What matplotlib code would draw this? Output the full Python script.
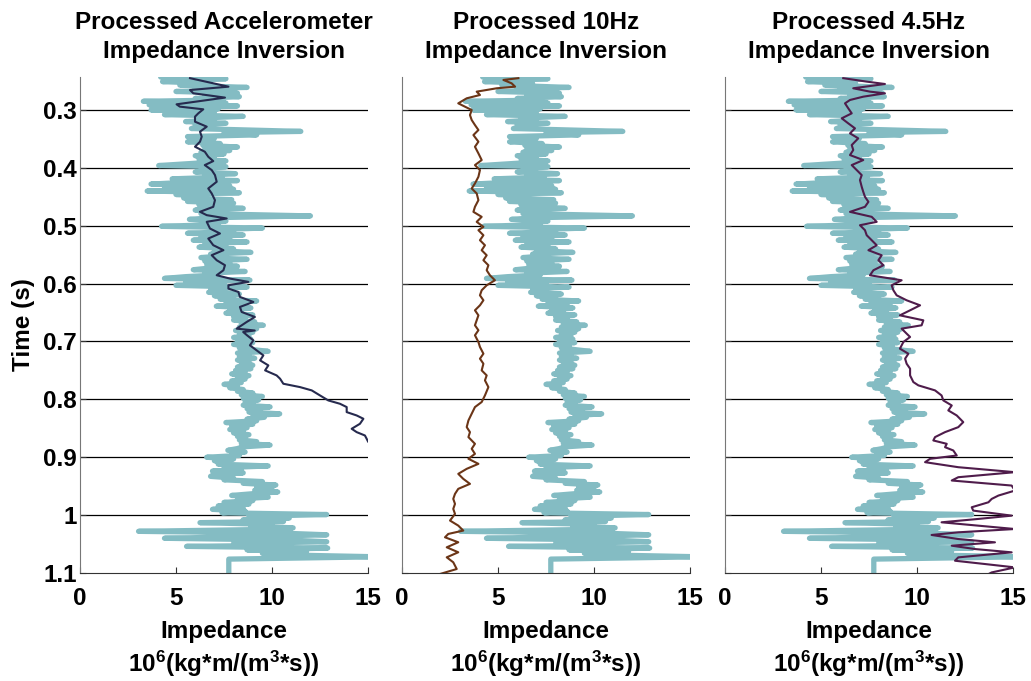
import matplotlib
matplotlib.use("Agg")
import matplotlib.pyplot as plt

plt.rcParams['font.family'] = ['Liberation Sans', 'DejaVu Sans']
plt.rcParams['font.weight'] = 'bold'
plt.rcParams['mathtext.fontset'] = 'custom'
plt.rcParams['mathtext.bf'] = 'Liberation Sans:bold'
plt.rcParams['mathtext.rm'] = 'Liberation Sans:bold'
plt.rcParams['mathtext.default'] = 'bf'

# well log impedance (same in all panels)
log_time = [0.243, 0.246, 0.249, 0.251, 0.254, 0.257, 0.261, 0.263, 0.266, 0.268,
            0.271, 0.274, 0.277, 0.280, 0.283, 0.285, 0.288, 0.291, 0.293, 0.296,
            0.298, 0.300, 0.302, 0.305, 0.308, 0.311, 0.314, 0.317, 0.320, 0.323,
            0.326, 0.329, 0.332, 0.337, 0.339, 0.343, 0.346, 0.349, 0.352, 0.355,
            0.358, 0.361, 0.364, 0.367, 0.370, 0.373, 0.376, 0.379, 0.382, 0.385,
            0.388, 0.391, 0.396, 0.398, 0.401, 0.404, 0.407, 0.410, 0.413, 0.416,
            0.419, 0.422, 0.425, 0.428, 0.431, 0.434, 0.437, 0.440, 0.443, 0.446,
            0.449, 0.452, 0.455, 0.458, 0.461, 0.464, 0.467, 0.470, 0.473, 0.476,
            0.479, 0.483, 0.486, 0.489, 0.492, 0.495, 0.498, 0.501, 0.504, 0.507,
            0.510, 0.513, 0.516, 0.519, 0.522, 0.525, 0.528, 0.531, 0.534, 0.537,
            0.540, 0.543, 0.546, 0.549, 0.552, 0.555, 0.558, 0.561, 0.564, 0.567,
            0.570, 0.573, 0.576, 0.579, 0.582, 0.585, 0.588, 0.591, 0.594, 0.597,
            0.600, 0.603, 0.606, 0.609, 0.612, 0.615, 0.618, 0.621, 0.624, 0.627,
            0.630, 0.633, 0.636, 0.639, 0.642, 0.645, 0.648, 0.651, 0.654, 0.657,
            0.660, 0.663, 0.666, 0.669, 0.672, 0.675, 0.678, 0.681, 0.684, 0.687,
            0.690, 0.693, 0.696, 0.699, 0.702, 0.705, 0.708, 0.711, 0.714, 0.717,
            0.720, 0.723, 0.726, 0.729, 0.732, 0.735, 0.738, 0.741, 0.744, 0.747,
            0.750, 0.753, 0.756, 0.759, 0.762, 0.765, 0.768, 0.771, 0.774, 0.777,
            0.780, 0.783, 0.786, 0.789, 0.792, 0.795, 0.798, 0.801, 0.804, 0.807,
            0.810, 0.813, 0.816, 0.819, 0.822, 0.825, 0.828, 0.831, 0.834, 0.837,
            0.840, 0.843, 0.846, 0.849, 0.852, 0.855, 0.858, 0.861, 0.864, 0.867,
            0.870, 0.873, 0.876, 0.879, 0.882, 0.885, 0.888, 0.891, 0.894, 0.897,
            0.900, 0.903, 0.906, 0.909, 0.912, 0.915, 0.918, 0.921, 0.924, 0.927,
            0.930, 0.933, 0.936, 0.939, 0.942, 0.945, 0.948, 0.951, 0.954, 0.957,
            0.960, 0.963, 0.966, 0.969, 0.972, 0.975, 0.978, 0.981, 0.984, 0.987,
            0.990, 0.993, 0.996, 0.999, 1.002, 1.005, 1.008, 1.011, 1.013, 1.016,
            1.019, 1.022, 1.025, 1.028, 1.031, 1.034, 1.037, 1.040, 1.043, 1.046,
            1.049, 1.052, 1.054, 1.057, 1.060, 1.063, 1.066, 1.069, 1.072, 1.076,
            1.105]
log_imp = [4.2, 7.6, 5.5, 4.3, 6.8, 5.2, 8.7, 6.0, 7.2, 5.0,
           8.2, 6.5, 8.3, 6.0, 7.0, 3.3, 7.6, 3.6, 8.2, 6.0,
           7.2, 3.7, 6.5, 7.0, 4.4, 8.5, 6.2, 7.0, 5.5, 7.6,
           6.0, 6.6, 5.8, 11.5, 7.5, 9.2, 5.6, 7.0, 6.5, 5.6,
           7.3, 6.4, 8.2, 6.5, 7.8, 6.3, 7.5, 6.0, 7.0, 6.2,
           7.6, 6.5, 4.1, 7.6, 6.4, 6.9, 6.0, 8.1, 6.5, 7.4,
           4.8, 8.2, 5.5, 3.7, 7.8, 4.4, 8.0, 3.5, 8.3, 5.0,
           6.5, 5.4, 7.9, 5.6, 8.0, 6.2, 7.0, 8.5, 6.0, 7.6,
           6.3, 12.0, 7.0, 5.7, 7.6, 6.5, 7.2, 4.25, 9.5, 6.8,
           8.0, 5.6, 8.5, 6.3, 7.8, 5.9, 8.7, 6.5, 7.6, 6.2,
           8.0, 7.0, 8.9, 6.8, 7.5, 6.3, 8.7, 6.5, 7.8, 6.6,
           8.2, 6.8, 5.9, 8.6, 6.5, 7.2, 5.5, 4.4, 8.85, 5.5,
           7.5, 5.0, 8.7, 6.8, 7.5, 6.7, 8.3, 7.0, 8.0, 7.3,
           9.2, 7.6, 8.6, 7.1, 8.9, 7.8, 8.4, 7.6, 9.0, 8.0,
           8.6, 8.0, 9.1, 8.4, 9.55, 8.3, 9.2, 8.1, 9.0, 8.3,
           8.8, 8.0, 8.9, 8.2, 9.0, 8.0, 8.7, 8.3, 9.0, 9.8,
           8.2, 8.8, 8.3, 9.1, 8.2, 8.8, 8.4, 9.0, 8.2, 8.9,
           8.1, 8.6, 7.9, 8.8, 8.2, 8.6, 7.9, 8.4, 7.5, 8.2,
           7.8, 8.5, 8.2, 9.0, 8.4, 9.5, 8.5, 9.3, 8.6, 9.0,
           8.5, 9.9, 8.7, 9.4, 8.8, 10.4, 9.0, 9.6, 8.7, 9.2,
           7.6, 9.0, 7.9, 8.7, 7.8, 8.5, 8.0, 8.8, 8.2, 8.6,
           8.3, 9.2, 8.4, 9.9, 8.5, 8.2, 7.7, 8.6, 7.9, 8.3,
           6.6, 8.0, 7.0, 7.6, 7.2, 9.8, 7.5, 8.4, 6.9, 8.5,
           7.0, 6.8, 8.0, 7.5, 9.5, 8.5, 10.2, 9.2, 10.0, 9.1,
           10.3, 9.0, 7.9, 9.8, 8.2, 9.0, 7.5, 8.8, 7.2, 8.5,
           6.9, 8.6, 7.4, 12.85, 8.8, 10.9, 8.5, 10.6, 6.25, 10.0,
           8.9, 11.1, 9.2, 3.05, 10.4, 12.85, 9.0, 4.4, 10.8, 12.85,
           8.0, 11.0, 5.55, 12.9, 8.7, 11.8, 9.5, 11.0, 15.5, 7.75,
           7.75]

# processed accelerometer inversion
accel_time = [0.245, 0.2597, 0.2655, 0.2711, 0.2786, 0.2902, 0.2942, 0.2988, 0.3058, 0.3115,
              0.3202, 0.3288, 0.3375, 0.3461, 0.3548, 0.3635, 0.3721, 0.3808, 0.3883, 0.3952,
              0.4038, 0.4125, 0.424, 0.4356, 0.4442, 0.4558, 0.4673, 0.4759, 0.4817, 0.4875,
              0.4932, 0.5048, 0.5134, 0.5221, 0.5336, 0.5422, 0.5509, 0.5596, 0.5682, 0.5769,
              0.5855, 0.5913, 0.597, 0.6028, 0.6086, 0.6144, 0.623, 0.6317, 0.6403, 0.649,
              0.6576, 0.6663, 0.6778, 0.681, 0.6836, 0.6893, 0.698, 0.7066, 0.7153, 0.724,
              0.7326, 0.7413, 0.7499, 0.7586, 0.7643, 0.773, 0.7788, 0.7845, 0.7932, 0.8018,
              0.8076, 0.8133, 0.822, 0.8278, 0.8335, 0.8422, 0.8508, 0.8566, 0.8624, 0.8681,
              0.8727]
accel_imp = [5.73, 7.73, 5.73, 5.9, 7.55, 5.03, 5.2, 6.42, 6.16, 5.99,
             5.99, 6.6, 6.25, 6.34, 6.25, 5.99, 6.5, 6.68, 6.94, 6.5,
             6.86, 7.03, 7.12, 6.68, 6.86, 7.03, 6.94, 6.25, 6.6, 7.64,
             6.6, 6.77, 7.29, 6.68, 6.94, 7.47, 6.86, 7.12, 7.55, 7.47,
             7.12, 7.81, 8.77, 7.73, 7.73, 8.25, 8.33, 9.03, 8.33, 8.42,
             9.11, 8.68, 8.16, 9.1, 8.5, 8.7, 9.03, 8.85, 9.2, 9.55,
             9.38, 9.81, 9.64, 10.24, 10.42, 10.59, 11.46, 12.07, 12.5, 12.93,
             13.54, 13.89, 13.89, 14.41, 14.76, 14.58, 14.15, 14.41, 14.84, 14.93,
             15.0]

# processed 10 Hz geophone inversion
geo10_time = [0.245, 0.2481, 0.2539, 0.2597, 0.2625, 0.2683, 0.2741, 0.2798, 0.2885, 0.2943,
              0.3, 0.3087, 0.3173, 0.326, 0.3346, 0.3433, 0.3548, 0.3635, 0.375, 0.3865,
              0.3952, 0.4038, 0.4154, 0.4269, 0.4356, 0.4442, 0.4558, 0.4673, 0.476, 0.4846,
              0.4933, 0.5019, 0.5077, 0.5164, 0.525, 0.5337, 0.5423, 0.551, 0.5596, 0.5683,
              0.5769, 0.5856, 0.5942, 0.6029, 0.6115, 0.6202, 0.6288, 0.6375, 0.6461, 0.6548,
              0.6634, 0.672, 0.6806, 0.6893, 0.7009, 0.7095, 0.7211, 0.7297, 0.7384, 0.7499,
              0.7586, 0.7672, 0.7788, 0.7932, 0.8046, 0.8133, 0.8248, 0.8364, 0.8479, 0.8566,
              0.8652, 0.8768, 0.8854, 0.8941, 0.9027, 0.9114, 0.92, 0.9287, 0.9373, 0.946,
              0.9546, 0.9633, 0.9719, 0.9806, 0.9892, 0.9979, 1.0094, 1.0181, 1.0267, 1.0325,
              1.0383, 1.0469, 1.0556, 1.0642, 1.0729, 1.0815, 1.0931, 1.1017]
geo10_imp = [6.06, 5.28, 5.71, 5.89, 4.93, 3.89, 4.06, 3.37, 2.93, 3.28,
             3.63, 3.54, 3.63, 3.8, 3.98, 3.72, 3.98, 3.8, 3.98, 4.15,
             3.8, 4.06, 3.98, 3.8, 3.63, 3.89, 3.98, 3.8, 3.72, 4.15,
             3.89, 4.24, 3.98, 4.24, 4.06, 4.32, 4.15, 4.41, 4.24, 4.5,
             4.41, 4.58, 4.84, 4.41, 4.15, 4.06, 4.24, 4.06, 3.8, 3.98,
             3.89, 3.8, 3.98, 3.8, 3.98, 4.06, 4.24, 4.06, 4.24, 4.15,
             4.41, 4.32, 4.5, 4.32, 4.15, 3.8, 3.63, 3.46, 3.37, 3.54,
             3.46, 3.8, 3.63, 3.8, 3.46, 3.98, 3.37, 2.93, 3.19, 3.54,
             2.93, 2.76, 2.67, 2.76, 2.67, 2.76, 2.5, 2.93, 3.19, 2.41,
             2.24, 2.93, 2.33, 2.93, 2.33, 2.67, 2.85, 1.98]

# processed 4.5 Hz geophone inversion
geo45_time = [0.245, 0.251, 0.2551, 0.2625, 0.2683, 0.2712, 0.277, 0.2827, 0.2885, 0.2971,
              0.3058, 0.3144, 0.3231, 0.3317, 0.3404, 0.349, 0.3606, 0.3692, 0.3779, 0.3865,
              0.3952, 0.4038, 0.4125, 0.4211, 0.4327, 0.4413, 0.45, 0.4587, 0.4673, 0.476,
              0.4846, 0.4933, 0.4991, 0.5077, 0.5164, 0.525, 0.5337, 0.5423, 0.551, 0.5596,
              0.5683, 0.5769, 0.5856, 0.5942, 0.6029, 0.6115, 0.6202, 0.6288, 0.6375, 0.6461,
              0.6548, 0.6634, 0.672, 0.6778, 0.6864, 0.6922, 0.7009, 0.7124, 0.7211, 0.7297,
              0.7384, 0.747, 0.7586, 0.7701, 0.7758, 0.7845, 0.7932, 0.8018, 0.8105, 0.8191,
              0.8278, 0.8393, 0.848, 0.8566, 0.8652, 0.871, 0.8768, 0.8826, 0.8883, 0.897,
              0.9027, 0.9085, 0.9172, 0.9258, 0.9345, 0.9402, 0.9489, 0.9576, 0.9662, 0.972,
              0.9778, 0.9864, 0.9922, 1.0009, 1.0066, 1.0124, 1.0182, 1.024, 1.0297, 1.0343,
              1.0413, 1.047, 1.0528, 1.0586, 1.0643, 1.073, 1.0788, 1.0845, 1.0903, 1.099,
              1.1019]
geo45_imp = [6.16, 7.38, 8.33, 6.68, 7.55, 8.33, 7.2, 6.51, 6.25, 6.42,
             6.6, 6.08, 6.42, 6.77, 6.51, 6.94, 6.6, 6.68, 6.51, 7.2,
             6.6, 6.86, 7.12, 7.03, 7.12, 7.2, 7.29, 7.47, 7.29, 6.51,
             7.64, 7.9, 7.03, 7.29, 7.38, 7.64, 7.9, 7.47, 8.16, 7.99,
             8.25, 7.73, 7.55, 9.2, 8.68, 8.77, 8.94, 9.46, 10.16, 9.64,
             9.11, 10.33, 10.24, 9.2, 9.46, 9.64, 9.29, 9.11, 9.55, 9.38,
             9.46, 9.64, 9.64, 9.81, 10.07, 10.94, 11.28, 11.37, 11.81, 11.63,
             12.07, 12.41, 12.15, 11.46, 10.94, 10.85, 11.55, 11.46, 11.89, 12.07,
             10.68, 10.42, 12.15, 15.1, 12.15, 11.81, 14.93, 15.1, 14.24, 13.89,
             13.72, 12.85, 12.93, 14.93, 13.19, 11.28, 13.19, 15.1, 12.15, 10.76,
             12.15, 14.06, 11.81, 13.02, 14.93, 12.15, 11.98, 13.54, 15.1, 13.89,
             13.72]

titles = ['Processed Accelerometer\nImpedance Inversion',
          'Processed 10Hz\nImpedance Inversion',
          'Processed 4.5Hz\nImpedance Inversion']
inv_times = [accel_time, geo10_time, geo45_time]
inv_imps = [accel_imp, geo10_imp, geo45_imp]
inv_colors = ['#262a4e', '#6b3517', '#4f1c4b']
log_color = '#84bcc3'

yticks = [0.3, 0.4, 0.5, 0.6, 0.7, 0.8, 0.9, 1.0, 1.1]
ylabels = ['0.3', '0.4', '0.5', '0.6', '0.7', '0.8', '0.9', '1', '1.1']

fs = 17.5
fig = plt.figure(figsize=(10.31, 6.81), dpi=100)
lefts = [80, 402, 725]
for i in range(3):
    ax = fig.add_axes([lefts[i] / 1031, 1 - 573 / 681, 288 / 1031, 496 / 681])
    ax.plot(log_imp, log_time, color=log_color, lw=3.8,
            solid_joinstyle='round', solid_capstyle='round', zorder=2)
    ax.plot(inv_imps[i], inv_times[i], color=inv_colors[i], lw=1.5, zorder=3)
    ax.set_xlim(0, 15)
    ax.set_ylim(1.1, 0.243)
    for t in yticks[:-1]:
        ax.axhline(t, color='black', lw=0.9, zorder=1)
    ax.set_yticks(yticks)
    if i == 0:
        ax.set_yticklabels(ylabels, fontsize=fs, fontweight='bold')
        ax.set_ylabel('Time (s)', fontsize=fs, fontweight='bold', labelpad=6)
    else:
        ax.set_yticklabels([])
    ax.set_xticks([0, 5, 10, 15])
    ax.set_xticklabels(['0', '5', '10', '15'], fontsize=fs, fontweight='bold')
    ax.tick_params(direction='in', length=4, width=0.8, color='#333333')
    ax.tick_params(axis='y', pad=2)
    ax.tick_params(axis='x', pad=10)
    ax.spines['top'].set_visible(False)
    ax.spines['right'].set_visible(False)
    ax.spines['left'].set_color('#777777')
    ax.spines['bottom'].set_color('#333333')
    ax.set_xlabel('Impedance\n10$^{6}$(kg*m/(m$^{3}$*s))', fontsize=fs,
                  fontweight='bold', labelpad=7, linespacing=1.25)
    ax.set_title(titles[i], fontsize=fs, fontweight='bold', pad=14, linespacing=1.3)

fig.savefig('out.png', dpi=100)
